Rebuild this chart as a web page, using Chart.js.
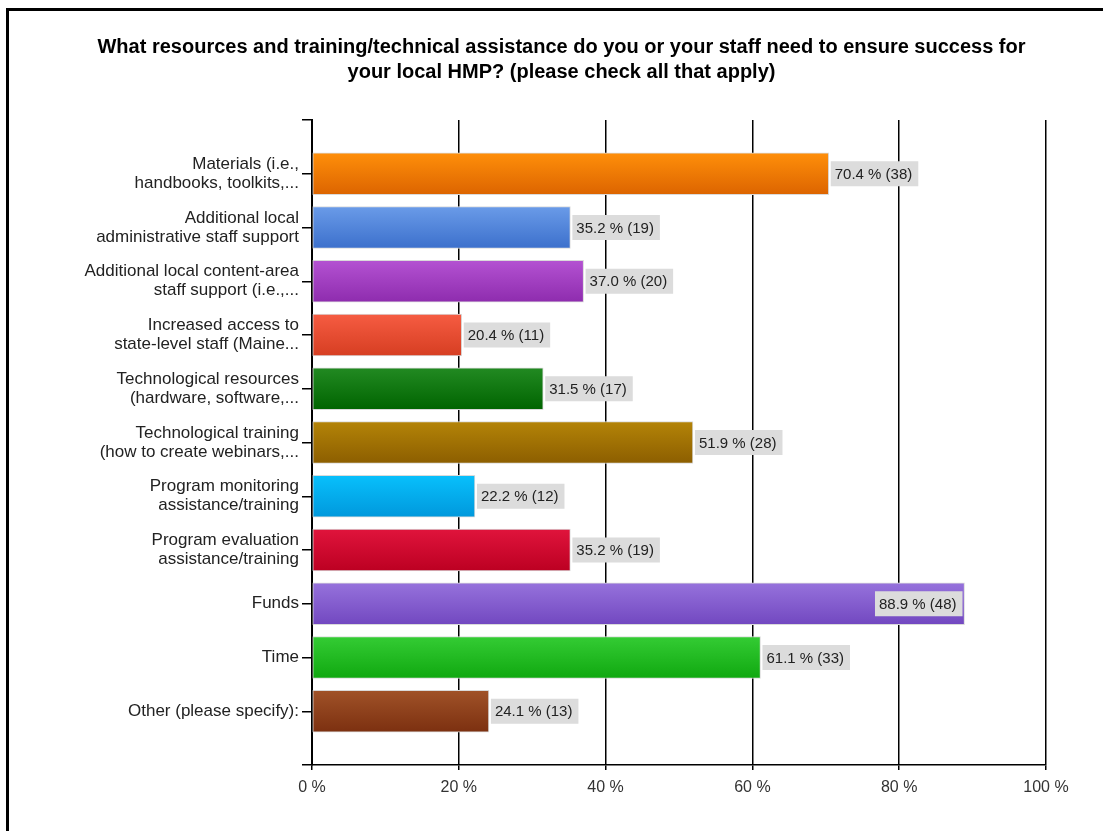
<!DOCTYPE html>
<html>
<head>
<meta charset="utf-8">
<script src="https://cdn.jsdelivr.net/npm/chart.js@4/dist/chart.umd.min.js"></script>
<style>
  html, body { margin: 0; padding: 0; background: #fff; overflow: hidden; }
  #wrap { position: relative; width: 1103px; height: 831px; }
  #frame { position: absolute; left: 6px; top: 8px; width: 1200px; height: 900px;
           border-top: 3px solid #000; border-left: 3px solid #000; pointer-events: none; }
  canvas { position: absolute; left: 0; top: 0; }
</style>
</head>
<body>
<div id="wrap">
  <canvas id="c" width="1103" height="831"></canvas>
  <div id="frame"></div>
</div>
<script>
const titleLines = [
  'What resources and training/technical assistance do you or your staff need to ensure success for',
  'your local HMP? (please check all that apply)'
];
const categories = [
  ['Materials (i.e.,', 'handbooks, toolkits,...'],
  ['Additional local', 'administrative staff support'],
  ['Additional local content-area', 'staff support (i.e.,...'],
  ['Increased access to', 'state-level staff (Maine...'],
  ['Technological resources', '(hardware, software,...'],
  ['Technological training', '(how to create webinars,...'],
  ['Program monitoring', 'assistance/training'],
  ['Program evaluation', 'assistance/training'],
  'Funds',
  'Time',
  'Other (please specify):'
];
const percents = [70.4, 35.2, 37.0, 20.4, 31.5, 51.9, 22.2, 35.2, 88.9, 61.1, 24.1];
const counts = [38, 19, 20, 11, 17, 28, 12, 19, 48, 33, 13];
const xTicks = [0, 20, 40, 60, 80, 100];

const barColors = [
  ['#ff8f0a', '#dc6400'],
  ['#6a9be8', '#3c70cc'],
  ['#b452d2', '#8e2cae'],
  ['#f65c42', '#d63e22'],
  ['#228a22', '#006400'],
  ['#b48408', '#8c5e00'],
  ['#08c0fc', '#0098dc'],
  ['#e0143c', '#bc0022'],
  ['#9672dc', '#7248c0'],
  ['#34cc34', '#10a810'],
  ['#a05228', '#7c3010']
];

const labels = [''].concat(categories, ['']);
const values = [null].concat(percents, [null]);

const BAR_H = 42;

const dataLabelPlugin = {
  id: 'dataLabels',
  afterDatasetsDraw(chart) {
    const ctx = chart.ctx;
    const meta = chart.getDatasetMeta(0);
    const area = chart.chartArea;
    ctx.save();
    ctx.font = '15px "Liberation Sans", Arial, sans-serif';
    ctx.textBaseline = 'middle';
    ctx.textAlign = 'left';
    for (let i = 0; i < percents.length; i++) {
      const el = meta.data[i + 1];
      if (!el) continue;
      const txt = percents[i].toFixed(1) + ' % (' + counts[i] + ')';
      const tw = ctx.measureText(txt).width;
      const bw = tw + 10, bh = 25;
      let bx = el.x + 2;
      if (bx + bw > area.right) bx = el.x - 2 - bw;
      const by = el.y - bh / 2;
      ctx.fillStyle = '#dcdcdc';
      ctx.fillRect(bx, by, bw, bh);
      ctx.fillStyle = '#222';
      ctx.fillText(txt, bx + 4, el.y + 1);
    }
    ctx.restore();
  }
};

new Chart(document.getElementById('c'), {
  type: 'bar',
  data: {
    labels: labels,
    datasets: [{
      data: values,
      barThickness: BAR_H,
      borderWidth: 1,
      borderColor: '#dadada',
      borderSkipped: false,
      backgroundColor: (c) => {
        const i = c.dataIndex - 1;
        if (i < 0 || i >= barColors.length) return '#000';
        const chart = c.chart;
        const ys = chart.scales.y;
        if (!ys) return barColors[i][0];
        const yc = ys.getPixelForValue(c.dataIndex);
        if (!isFinite(yc)) return barColors[i][0];
        const g = chart.ctx.createLinearGradient(0, yc - BAR_H / 2, 0, yc + BAR_H / 2);
        g.addColorStop(0, barColors[i][0]);
        g.addColorStop(1, barColors[i][1]);
        return g;
      }
    }]
  },
  options: {
    indexAxis: 'y',
    responsive: false,
    animation: false,
    layout: { padding: { left: 77, right: 57, top: 0, bottom: 0 } },
    plugins: {
      legend: { display: false },
      tooltip: { enabled: false },
      title: {
        display: true,
        text: titleLines,
        color: '#000',
        font: { family: '"Liberation Sans", Arial, sans-serif', size: 20, weight: 'bold', lineHeight: 25 / 20 },
        padding: { top: 34.5, bottom: 35.5 }
      }
    },
    scales: {
      x: {
        type: 'linear',
        min: 0,
        max: 100,
        afterBuildTicks: (s) => { s.ticks = xTicks.map(v => ({ value: v })); },
        afterFit: (s) => { s.height = 66; },
        border: { display: true, color: '#000', width: 1.5 },
        grid: { color: '#000', lineWidth: 1.5, tickLength: 5, drawTicks: true },
        ticks: {
          color: '#333',
          padding: 8,
          font: { family: '"Liberation Sans", Arial, sans-serif', size: 16 },
          callback: (v) => v + ' %'
        }
      },
      y: {
        type: 'category',
        offset: false,
        afterFit: (s) => { s.width = 312 - 77; },
        border: { display: true, color: '#000', width: 2 },
        grid: { drawOnChartArea: false, offset: false, color: '#000', lineWidth: 1.5, tickLength: 10 },
        ticks: {
          autoSkip: false,
          color: '#222',
          padding: 3,
          font: { family: '"Liberation Sans", Arial, sans-serif', size: 17, lineHeight: 19 / 17 }
        }
      }
    }
  },
  plugins: [dataLabelPlugin]
});
</script>
</body>
</html>
